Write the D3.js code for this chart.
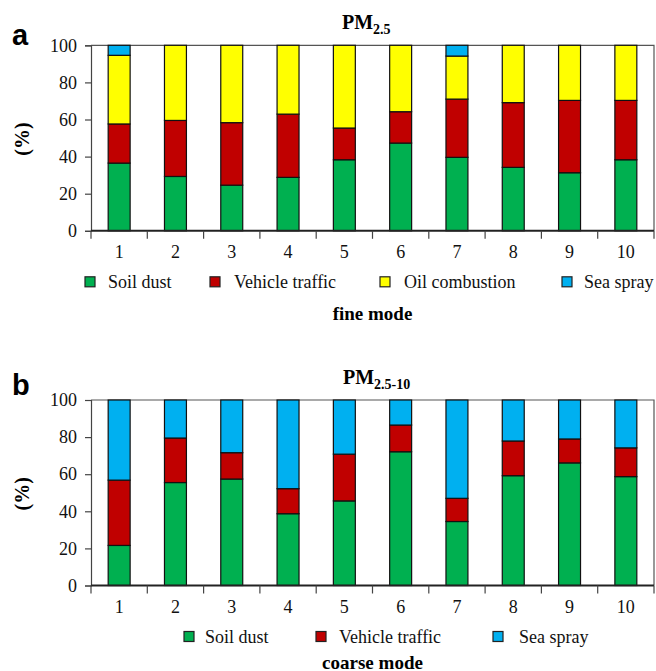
<!DOCTYPE html>
<html>
<head>
<meta charset="utf-8">
<script src="https://cdn.jsdelivr.net/npm/d3@7"></script>
<style>
  body { margin: 0; background: #fff; }
</style>
</head>
<body>
<svg id="chart" width="656" height="671"></svg>
<script>
// samples along the x axis
const samples = ["1", "2", "3", "4", "5", "6", "7", "8", "9", "10"];
const yTicks = [0, 20, 40, 60, 80, 100];

// fine mode (PM2.5) source contributions, %
const fineSoil    = [36.5, 29.3, 24.6, 28.8, 38.3, 47.3, 39.6, 34.2, 31.3, 38.3];
const fineTraffic = [21.1, 30.2, 33.7, 34.1, 17.1, 16.9, 31.4, 34.9, 39.0, 32.0];
const fineOil     = [37.0, 40.5, 41.7, 37.1, 44.6, 35.8, 23.2, 30.9, 29.7, 29.7];
const fineSea     = [5.4, 0, 0, 0, 0, 0, 5.8, 0, 0, 0];

// coarse mode (PM2.5-10) source contributions, %
const coarseSoil    = [21.6, 55.5, 57.4, 38.7, 45.6, 72.1, 34.5, 59.2, 66.1, 58.7];
const coarseTraffic = [35.2, 24.0, 14.2, 13.5, 25.2, 14.4, 12.5, 18.7, 12.9, 15.5];
const coarseSea     = [43.2, 20.5, 28.4, 47.8, 29.2, 13.5, 53.0, 22.1, 21.0, 25.8];

const colors = {
  soil: "#00b050",
  traffic: "#c00000",
  oil: "#ffff00",
  sea: "#00b0f0"
};
const names = {
  soil: "Soil dust",
  traffic: "Vehicle traffic",
  oil: "Oil combustion",
  sea: "Sea spray"
};

const SERIF = '"Liberation Serif", "Times New Roman", serif';
const SANS = '"Liberation Sans", Arial, sans-serif';

const svg = d3.select("#chart");

function drawPanel(opt) {
  const left = 91, right = 654;
  const top = opt.top, bottom = opt.top + 185.5;

  const x = d3.scaleBand()
    .domain(samples)
    .range([left, right])
    .paddingInner(0.61)
    .paddingOuter(0.305);

  const y = d3.scaleLinear().domain([0, 100]).range([bottom, top]);

  const g = svg.append("g");

  // stacked rows
  const rows = samples.map((s, i) => {
    const r = { sample: s };
    opt.keys.forEach(k => { r[k] = opt.series[k][i]; });
    return r;
  });
  const stacked = d3.stack().keys(opt.keys)(rows);

  // frame (top + right)
  g.append("path")
    .attr("d", `M${left},${top}H${right}V${bottom}`)
    .attr("fill", "none")
    .attr("stroke", "#555")
    .attr("stroke-width", 1.2);

  stacked.forEach(layer => {
    g.append("g").selectAll("rect")
      .data(layer.filter(d => d[1] - d[0] > 0))
      .join("rect")
      .attr("x", d => x(d.data.sample))
      .attr("width", x.bandwidth())
      .attr("y", d => y(d[1]))
      .attr("height", d => y(d[0]) - y(d[1]))
      .attr("fill", colors[layer.key])
      .attr("stroke", "#111")
      .attr("stroke-width", 1.2);
  });

  // y axis
  const yAxis = g.append("g")
    .attr("transform", `translate(${left},0)`)
    .call(d3.axisLeft(y).tickValues(yTicks).tickSize(6).tickPadding(8));
  yAxis.select(".domain").attr("stroke", "#444").attr("stroke-width", 1.2);
  yAxis.selectAll(".tick line").attr("stroke", "#444").attr("stroke-width", 1.2);
  yAxis.selectAll("text")
    .style("font-family", SERIF)
    .style("font-size", "18px")
    .attr("fill", "#111");

  // x axis: ticks between categories, labels centered
  const xAxis = g.append("g").attr("transform", `translate(0,${bottom})`);
  xAxis.append("line")
    .attr("x1", left).attr("x2", right)
    .attr("stroke", "#222").attr("stroke-width", 2);
  const step = x.step();
  const bounds = d3.range(samples.length + 1).map(i => left + i * step);
  xAxis.selectAll(".xt").data(bounds).join("line")
    .attr("x1", d => d).attr("x2", d => d)
    .attr("y1", 0).attr("y2", 8)
    .attr("stroke", "#444").attr("stroke-width", 1.2);
  xAxis.selectAll(".xl").data(samples).join("text")
    .attr("x", d => x(d) + x.bandwidth() / 2)
    .attr("y", 27)
    .attr("text-anchor", "middle")
    .style("font-family", SERIF)
    .style("font-size", "18px")
    .attr("fill", "#111")
    .text(d => d);

  // panel letter
  g.append("text")
    .attr("x", 12).attr("y", opt.letterY)
    .style("font-family", SANS)
    .style("font-weight", "bold")
    .style("font-size", "29px")
    .attr("fill", "#000")
    .text(opt.letter);

  // title with subscript
  const t = g.append("text")
    .attr("x", opt.titleX).attr("y", top - 16)
    .style("font-family", SERIF)
    .style("font-weight", "bold")
    .style("font-size", "20px")
    .attr("fill", "#000");
  t.append("tspan").text("PM");
  t.append("tspan").attr("dy", 5).style("font-size", "14px").text(opt.sub);

  // y label
  g.append("text")
    .attr("transform", `translate(29,${(top + bottom) / 2 + 1}) rotate(-90)`)
    .attr("text-anchor", "middle")
    .style("font-family", SERIF)
    .style("font-weight", "bold")
    .style("font-size", "20px")
    .attr("fill", "#000")
    .text("(%)");

  // legend
  const lg = g.append("g").attr("transform", `translate(0,${bottom + 51})`);
  opt.keys.forEach((k, i) => {
    const lx = opt.legendX[i];
    lg.append("rect")
      .attr("x", lx).attr("y", -5)
      .attr("width", 10).attr("height", 10)
      .attr("fill", colors[k])
      .attr("stroke", "#222").attr("stroke-width", 1.2);
    lg.append("text")
      .attr("x", opt.legendTextX[i]).attr("y", 6)
      .style("font-family", SERIF)
      .style("font-size", "18px")
      .attr("fill", "#111")
      .text(names[k]);
  });

  // mode label
  g.append("text")
    .attr("x", (left + right) / 2).attr("y", bottom + opt.modeDy)
    .attr("text-anchor", "middle")
    .style("font-family", SERIF)
    .style("font-weight", "bold")
    .style("font-size", "19px")
    .attr("fill", "#000")
    .text(opt.mode);
}

drawPanel({
  top: 45.3,
  letter: "a",
  letterY: 45,
  titleX: 342,
  sub: "2.5",
  keys: ["soil", "traffic", "oil", "sea"],
  series: { soil: fineSoil, traffic: fineTraffic, oil: fineOil, sea: fineSea },
  legendX: [85, 210, 380, 562],
  legendTextX: [108, 234, 404, 584],
  mode: "fine mode",
  modeDy: 89
});

drawPanel({
  top: 400,
  letter: "b",
  letterY: 395,
  titleX: 343,
  sub: "2.5-10",
  keys: ["soil", "traffic", "sea"],
  series: { soil: coarseSoil, traffic: coarseTraffic, sea: coarseSea },
  legendX: [184, 316, 493],
  legendTextX: [205, 339, 519],
  mode: "coarse mode",
  modeDy: 83
});
</script>
</body>
</html>
